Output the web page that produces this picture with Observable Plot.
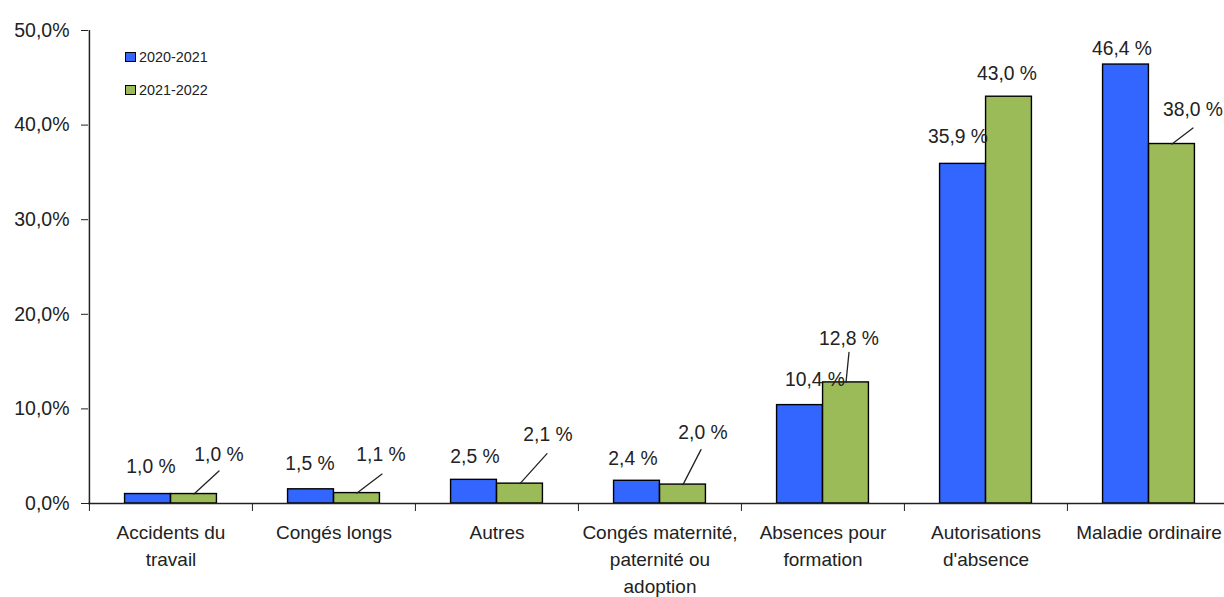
<!DOCTYPE html>
<html><head><meta charset="utf-8">
<script src="https://cdn.jsdelivr.net/npm/d3@7"></script>
<script src="https://cdn.jsdelivr.net/npm/@observablehq/plot@0.6"></script>
<style>
body{margin:0;background:#fff;}
#chart{position:relative;width:1224px;height:597px;font-family:"Liberation Sans",Arial,sans-serif;}
#chart svg{font-family:"Liberation Sans",Arial,sans-serif;}
.legend{position:absolute;left:125px;top:50px;font-size:14.4px;color:#222;line-height:14px;}
.legend .item{display:flex;align-items:center;height:14px;margin-bottom:19px;}
.legend .sw{width:9px;height:8px;border:1px solid #000;margin-right:3px;}
</style></head><body><div id="chart"></div>
<script>
// ---- data ----
const categories = ["Accidents du\ntravail", "Congés longs", "Autres", "Congés maternité,\npaternité ou\nadoption", "Absences pour\nformation", "Autorisations\nd'absence", "Maladie ordinaire"];
const series = ["2020-2021", "2021-2022"];
const values2020 = [1.0, 1.5, 2.5, 2.4, 10.4, 35.9, 46.4];
const values2021 = [1.0, 1.1, 2.1, 2.0, 12.8, 43.0, 38.0];
const yTicks = [0, 10, 20, 30, 40, 50];

// ---- style / layout ----
const colors = ["#3366ff", "#9bbb59"];
const ink = "#222";
// value-label offsets (px) from top-centre of each bar: [dx, dy, leader end [dx,dy] or null]
const labelLayout = [
  [[3,-27,null],[-1,-25,null],[1,-23,null],[-4,-22,null],[15,-25,null],[-5,-27,null],[-4,-16,null]],
  [[25,-39,[25,-23]],[24,-38,[25,-19]],[28,-49,[27,-30]],[20,-52,[18,-35]],[3,-44,[3,-30]],[-2,-23,null],[21,-34,[21,-16]]]
];

const width = 1224, height = 597, marginLeft = 88, marginRight = -6, marginTop = 30, marginBottom = 94;
const bw = (width - marginLeft - marginRight) / categories.length;
const half = bw / 2;
const barW = 46;

const seriesValues = [values2020, values2021];
const rows = series.map((s, si) => categories.map((c, ci) => ({category: c, series: s, value: seriesValues[si][ci], si, ci})));
const fmt = v => v.toFixed(1).replace(".", ",") + " %";

const marks = [];
rows.forEach((rs, si) => {
  marks.push(Plot.barY(rs, {
    x: "category", y: "value", fill: colors[si], stroke: "#000", strokeWidth: 1.4,
    insetLeft: si === 0 ? half - barW : half, insetRight: si === 0 ? half : half - barW
  }));
});
marks.push(Plot.ruleY([0], {stroke: ink, strokeWidth: 1.5}));
marks.push(Plot.ruleX([categories[0]], {dx: -half, stroke: ink, strokeWidth: 1.5}));
marks.push(Plot.axisY({ticks: yTicks, tickSize: 7, tickPadding: 12, tickFormat: d => d.toFixed(1).replace(".", ",") + "%", fontSize: 19.5, color: ink, label: null}));
marks.push(Plot.axisX({tickSize: 8, tickFormat: () => "", dx: -half, color: ink, label: null}));
marks.push(Plot.axisX({tickSize: 0, tickPadding: 16, fontSize: 19, lineHeight: 1.42, color: ink, label: null}));

rows.forEach((rs, si) => {
  const cx = si === 0 ? -barW / 2 : barW / 2;
  rs.forEach((r, ci) => {
    const [dx, dy, lead] = labelLayout[si][ci];
    if (lead) {
      const [ex, ey] = lead;
      marks.push(Plot.vector([r], {x: "category", y: "value", dx: cx, anchor: "start",
        length: Math.hypot(ex, ey), rotate: Math.atan2(ex, -ey) * 180 / Math.PI, r: 0,
        stroke: ink, strokeWidth: 1.3}));
    }
    marks.push(Plot.text([r], {x: "category", y: "value", text: d => fmt(d.value), dx: cx + dx, dy, fontSize: 19.3, fill: ink}));
  });
});

const plot = Plot.plot({
  width, height, marginLeft, marginRight, marginTop, marginBottom,
  x: {domain: categories, paddingInner: 0, paddingOuter: 0, axis: null},
  y: {domain: [0, 50], axis: null},
  style: {background: "#fff", color: ink},
  marks
});
const chart = document.getElementById("chart");
chart.appendChild(plot);
const legend = document.createElement("div");
legend.className = "legend";
series.forEach((s, i) => {
  const it = document.createElement("div");
  it.className = "item";
  const sw = document.createElement("span");
  sw.className = "sw"; sw.style.background = colors[i];
  const t = document.createElement("span");
  t.textContent = s;
  it.appendChild(sw); it.appendChild(t);
  legend.appendChild(it);
});
chart.appendChild(legend);
</script></body></html>
